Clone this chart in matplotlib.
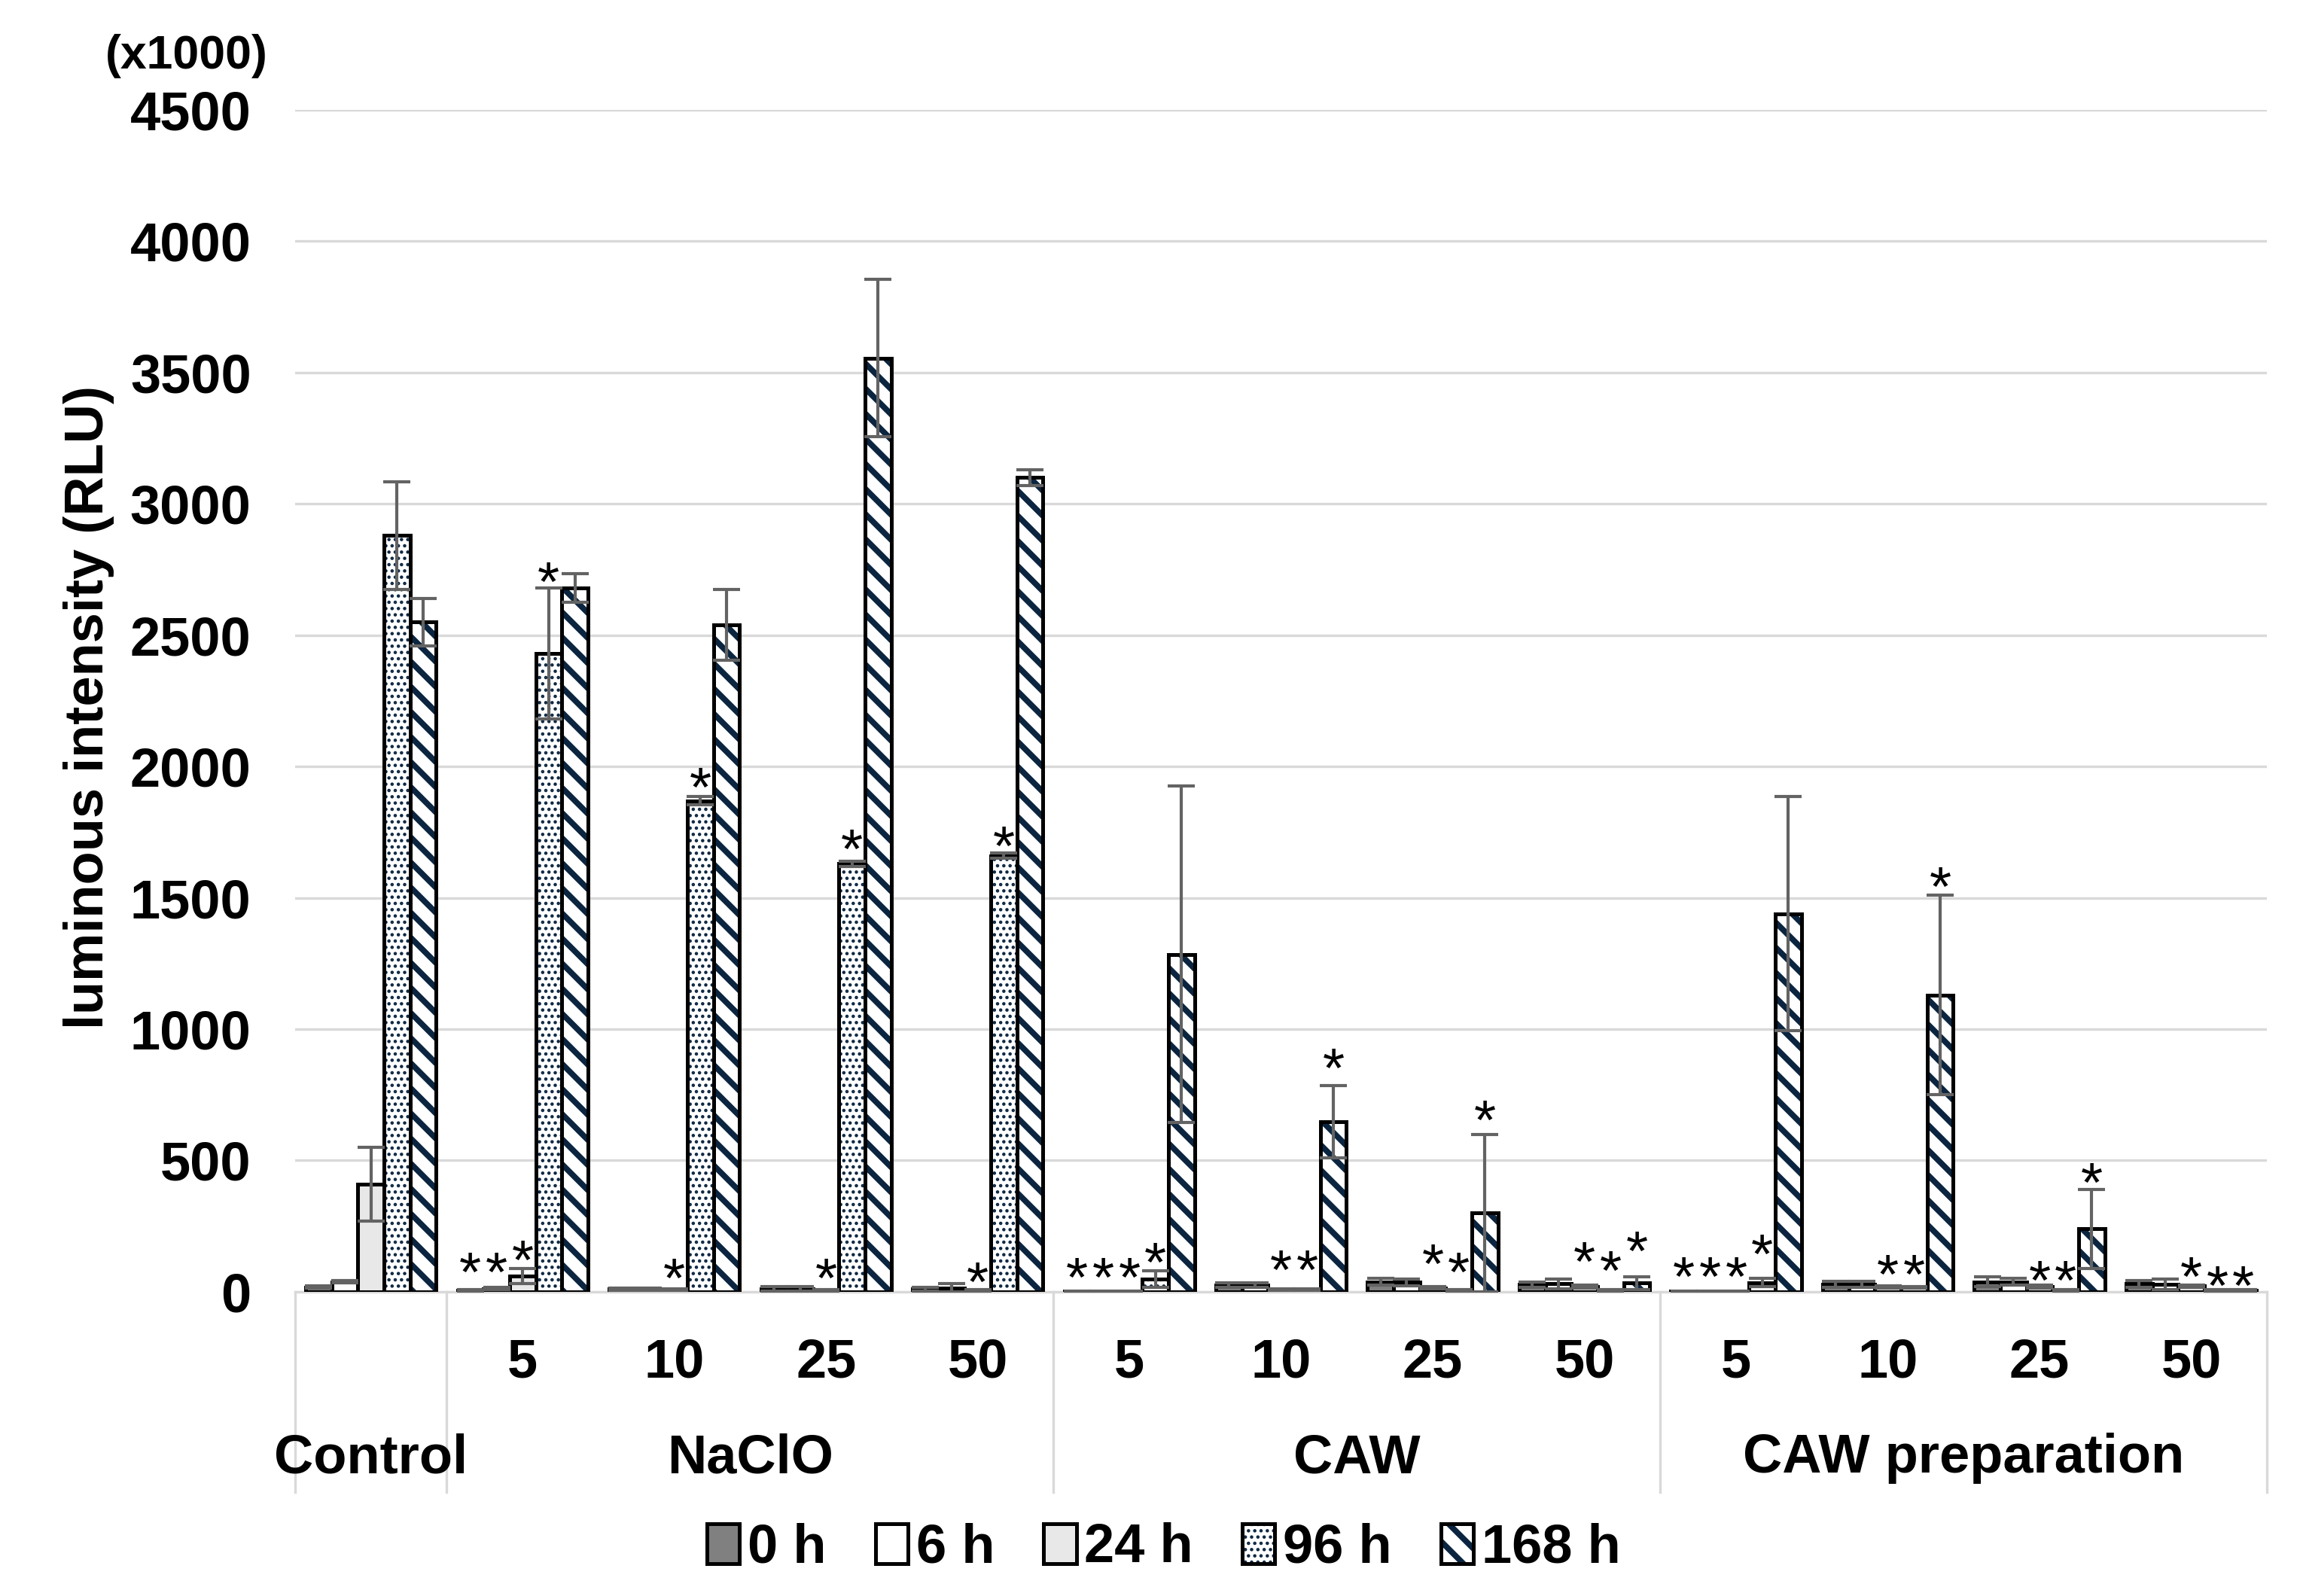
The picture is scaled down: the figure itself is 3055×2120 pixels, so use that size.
import matplotlib
matplotlib.use('Agg')
import matplotlib.pyplot as plt
from matplotlib.patches import Patch, Rectangle
from matplotlib.legend_handler import HandlerTuple
import matplotlib.transforms as mtransforms
import numpy as np

plt.rcParams['font.family'] = ['Liberation Sans', 'DejaVu Sans']

# ---------------- data (RLU x1000) ----------------
categories = ['Control', '5', '10', '25', '50', '5', '10', '25', '50', '5', '10', '25', '50']
groups = ['Control', 'NaClO', 'CAW', 'CAW preparation']
group_first = [0, 1, 5, 9]
group_last = [0, 4, 8, 12]
series = ['0 h', '6 h', '24 h', '96 h', '168 h']

v_0h = [18, 5, 10, 12, 10, 2, 26, 38, 28, 2, 28, 38, 30]
e_0h = [5, 4, 5, 8, 8, 1, 8, 12, 10, 1, 12, 18, 12]
v_6h = [38, 12, 10, 12, 15, 2, 26, 36, 30, 2, 28, 38, 28]
e_6h = [5, 4, 5, 8, 15, 1, 8, 12, 18, 1, 12, 12, 20]
v_24h = [410, 60, 8, 5, 5, 2, 8, 15, 20, 2, 18, 20, 22]
e_24h = [140, 30, 3, 3, 3, 1, 3, 5, 6, 1, 5, 5, 5]
v_96h = [2880, 2430, 1870, 1630, 1660, 48, 8, 5, 5, 35, 18, 5, 5]
e_96h = [205, 250, 15, 10, 10, 32, 2, 2, 2, 15, 3, 2, 2]
v_168h = [2550, 2680, 2540, 3555, 3100, 1285, 648, 300, 33, 1440, 1130, 240, 5]
e_168h = [90, 55, 135, 300, 30, 640, 137, 300, 25, 445, 380, 150, 2]

# significance marks: category index, series index, height of mark centre
star_cat = [1, 1, 1, 1, 2, 2, 3, 3, 4, 4, 5, 5, 5, 5, 6, 6, 6, 7, 7, 7, 8, 8, 8,
            9, 9, 9, 9, 10, 10, 10, 11, 11, 11, 12, 12, 12]
star_ser = [0, 1, 2, 3, 2, 3, 2, 3, 2, 3, 0, 1, 2, 3, 2, 3, 4, 2, 3, 4, 2, 3, 4,
            0, 1, 2, 3, 2, 3, 4, 2, 3, 4, 2, 3, 4]
star_y = [123, 123, 168, 2750, 100, 1968, 100, 1733, 84, 1744, 103, 103, 103, 160,
          130, 130, 900, 153, 123, 700, 163, 128, 203,
          105, 105, 105, 190, 115, 115, 1590, 90, 90, 464, 105, 70, 70]

values = [v_0h, v_6h, v_24h, v_96h, v_168h]
errors = [e_0h, e_6h, e_24h, e_96h, e_168h]

# ---------------- style ----------------
navy = '#0b2540'
faces = ['#808080', '#ffffff', '#e8e8e8', '#ffffff', '#ffffff']
hatches = [None, None, None, '....', '\\\\']
hatch_lw = [0, 0, 0, 1.0, 2.8]
hatch_lw_by_pattern = {'....': 1.0, '\\\\': 2.8}
edge_lw = 1.8
err_color = '#636363'
grid_color = '#d9d9d9'
FS = 26

plt.rcParams['hatch.linewidth'] = 2.8

fig = plt.figure(figsize=(15.275, 10.6), dpi=200)
ax = fig.add_axes([0.1283, 0.1906, 0.8574, 0.7405])

x = np.arange(len(categories))
w = 0.172
offsets = (np.arange(5) - 2) * w


def set_hlw(patch, lw):
    if hasattr(patch, 'set_hatch_linewidth'):
        patch.set_hatch_linewidth(lw)


for s in range(5):
    xs = x + offsets[s]
    if hatches[s] is not None:
        bars = ax.bar(xs, values[s], w, color='white', edgecolor=navy,
                      hatch=hatches[s], linewidth=0, zorder=2)
        for p in bars:
            set_hlw(p, hatch_lw[s])
        ax.bar(xs, values[s], w, fill=False, edgecolor='black',
               linewidth=edge_lw, zorder=3)
    else:
        ax.bar(xs, values[s], w, color=faces[s], edgecolor='black',
               linewidth=edge_lw, zorder=3)
    ax.errorbar(xs, values[s], yerr=errors[s], fmt='none', ecolor=err_color,
                elinewidth=1.5, capsize=6.5, capthick=1.5, zorder=4)

for c, s, yv in zip(star_cat, star_ser, star_y):
    ax.annotate('*', xy=(x[c] + offsets[s], yv), xytext=(0, -15),
                textcoords='offset points', ha='center', va='baseline',
                fontsize=FS + 1, zorder=5)

ax.set_xlim(-0.5, len(categories) - 0.5)
ax.set_ylim(0, 4500)
ax.set_yticks(np.arange(0, 4501, 500))
ax.set_xticks([])
ax.yaxis.grid(True, color=grid_color, linewidth=1.2, zorder=0)
ax.set_axisbelow(True)
for sp in ['top', 'right', 'left']:
    ax.spines[sp].set_visible(False)
ax.spines['bottom'].set_color(grid_color)
ax.spines['bottom'].set_linewidth(1.2)
ax.tick_params(axis='y', length=0, pad=21, labelsize=FS)
for lab in ax.get_yticklabels():
    lab.set_fontweight('bold')

# category table below the axis
trans = mtransforms.blended_transform_factory(ax.transData, ax.transAxes)
bounds = [-0.5] + [g + 0.5 for g in group_last]
for xb in bounds:
    ax.plot([xb, xb], [0, -0.1696], transform=trans, color=grid_color,
            lw=1.2, clip_on=False, zorder=1)
for i in range(1, len(categories)):
    ax.text(x[i], -0.060, categories[i], transform=trans, ha='center',
            va='center', fontsize=FS, fontweight='bold')
for g, a, b in zip(groups, group_first, group_last):
    ax.text((a + b) / 2, -0.141, g, transform=trans, ha='center',
            va='center', fontsize=FS, fontweight='bold')

fig.text(0.0385, 0.557, 'luminous intensity (RLU)', rotation=90, ha='center',
         va='center', fontsize=FS, fontweight='bold')
fig.text(0.081, 0.965, '(x1000)', ha='center', va='center', fontsize=22.5,
         fontweight='bold')

# legend
handles = []
for s in range(5):
    if hatches[s] is None:
        handles.append(Patch(facecolor=faces[s], edgecolor='black', linewidth=edge_lw))
    else:
        hp = Patch(facecolor='white', edgecolor=navy, hatch=hatches[s], linewidth=0)
        set_hlw(hp, hatch_lw[s])
        op = Patch(fill=False, edgecolor='black', linewidth=edge_lw)
        handles.append((hp, op))
leg = fig.legend(handles, series, loc='center', bbox_to_anchor=(0.506, 0.030), ncol=5,
                 frameon=False, prop={'weight': 'bold', 'size': FS},
                 handlelength=0.6, handleheight=0.75, handletextpad=0.15,
                 columnspacing=0.9, handler_map={tuple: HandlerTuple(ndivide=1, pad=0)})
for r in leg.findobj(Rectangle):
    hp_pat = r.get_hatch()
    if hp_pat in hatch_lw_by_pattern:
        set_hlw(r, hatch_lw_by_pattern[hp_pat])

fig.savefig('out.png', dpi=200)
